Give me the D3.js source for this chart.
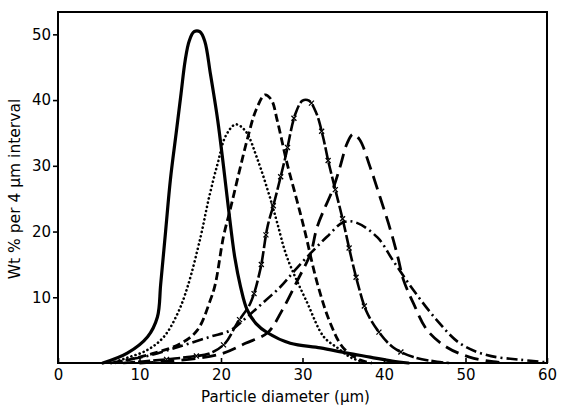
<!DOCTYPE html>
<html>
<head>
<meta charset="utf-8">
<script src="https://cdn.jsdelivr.net/npm/d3@7"></script>
<style>
  body { margin: 0; background: #fff; }
  svg text { font-family: "DejaVu Sans", sans-serif; fill: #000; }
</style>
</head>
<body>
<svg id="chart"></svg>
<script>
// particle size distributions: [diameter um, wt %]
var solidCurve = [[5.5,0],[8.5,1.5],[11,4],[12.2,7],[12.6,12],[13.2,20],[13.8,28],[14.5,35],[15.1,41],
    [15.6,46],[16.1,49],[16.7,50.4],[17.4,50.4],[18,49],[18.7,44],[19.6,36.9],[20.3,30],[20.9,23.7],
    [21.7,16],[22.4,11.6],[23.2,8.1],[24.3,6],[25.7,4.6],[28.5,3.0],[32.2,2.3],[35.5,1.5],[38.3,0.9],[41,0.3],[43,0]];

var dottedCurve = [[6.5,0],[8.5,0.8],[11,2],[13,4],[14.7,7.6],[15.9,11.6],[17.5,19.2],[18.5,25],[19.6,30.4],
    [20.6,34.6],[21.8,36.3],[23,35.3],[24.5,30.9],[26.1,24.8],[26.9,21.3],[28.1,16.1],[30.6,9.1],[32.6,4.0],
    [34.3,2.3],[36,0.8],[38,0]];

var dashedCurve = [[7,0],[11.8,1.5],[15.1,3],[17.1,5],[18.7,9.6],[19.3,12],[20.3,19.2],[21.2,23.7],[22.2,28.9],
    [23.2,33.9],[24.3,38.5],[25.4,40.8],[26.2,40],[26.9,36.9],[28.1,30.4],[29.3,24.8],[30.2,20.5],[31.8,12.2],
    [33.4,6.1],[35,2.3],[37,0.5],[38.5,0]];

var crossCurve = [[8,0],[12,0.4],[15.9,0.9],[18.7,1.5],[20.5,3],[22,6.1],[23.6,9.1],[24.8,14.1],[25.7,20.7],
    [26.5,24.3],[27.9,31.3],[29.1,37.8],[30,39.9],[30.8,39.9],[31.7,38],[32.5,34.5],[33.2,30.5],[34.1,26],
    [35,21.5],[35.9,16.5],[36.8,12],[37.8,8],[39.2,5],[41.1,2.4],[43.6,0.9],[46.5,0.2],[48,0]];

var longDashCurve = [[10,0],[13,0.2],[17,0.7],[20.3,1.5],[23,3],[25.7,4.6],[27.5,8],[29.4,12.6],[31,16.7],
    [31.8,20.7],[33.8,26.7],[34.6,29.8],[35.5,33.5],[36.2,34.8],[37,34],[38.3,29.8],[39.5,25.3],[40.8,20.2],
    [41.7,16.1],[42.4,12.6],[43.6,9.1],[45.3,5],[47.7,2.4],[50.5,0.9],[53.4,0.2],[55,0]];

var dashDotCurve = [[6.5,0],[7.7,0.3],[11.4,1.2],[15.4,2.7],[18.7,4],[21.2,5],[23.2,7],[25,9],[27.3,11.6],
    [29,14],[31,16.7],[33,19.2],[35,21.4],[36.5,21.4],[39.2,19.1],[41.1,15.6],[43.6,11.1],[46.5,6.5],
    [49.3,3],[52.6,1.2],[56.7,0.5],[60,0.1]];

var xTicks = [0,10,20,30,40,50,60];
var yTicks = [10,20,30,40,50];

var screen = {width:561, height:409};
var margins = {top:12, left:58, right:14, bottom:46};
var graph = {
    width:screen.width-margins.left-margins.right,
    height:screen.height-margins.top-margins.bottom
};

var svg = d3.select("#chart")
    .attr("width",screen.width)
    .attr("height",screen.height);

var xScale = d3.scaleLinear()
    .domain([0,60])
    .range([0,graph.width]);

// y top of frame is a bit above 50
var yScale = d3.scaleLinear()
    .domain([0,53.4])
    .range([graph.height,0]);

var g = svg.append("g")
    .attr("transform","translate("+margins.left+","+margins.top+")");

// axes
var xAxis = d3.axisBottom(xScale)
    .tickValues(xTicks)
    .tickSize(-5)
    .tickPadding(6)
    .tickFormat(d3.format("d"));

var yAxis = d3.axisLeft(yScale)
    .tickValues(yTicks)
    .tickSize(5)
    .tickPadding(2)
    .tickFormat(d3.format("d"));

var gx = g.append("g")
    .attr("transform","translate(0,"+graph.height+")")
    .call(xAxis);

var gy = g.append("g")
    .call(yAxis);

[gx,gy].forEach(function(a)
{
    a.select(".domain").remove();
    a.selectAll("line").attr("stroke","#000").attr("stroke-width",1.6);
    a.selectAll("text").style("font-size","15px");
});

// frame
g.append("rect")
    .attr("width",graph.width)
    .attr("height",graph.height)
    .attr("fill","none")
    .attr("stroke","#000")
    .attr("stroke-width",2);

var line = d3.line()
    .x(function(d){return xScale(d[0]);})
    .y(function(d){return yScale(d[1]);})
    .curve(d3.curveCatmullRom.alpha(0.5));

var series = [
    {data:solidCurve, width:3.2, dash:null, cap:"round"},
    {data:dottedCurve, width:2.6, dash:"0.1,4.2", cap:"round"},
    {data:dashedCurve, width:2.8, dash:"8,4", cap:"butt"},
    {data:crossCurve, width:2.6, dash:"12,3", cap:"butt"},
    {data:longDashCurve, width:2.8, dash:"14,7", cap:"butt"},
    {data:dashDotCurve, width:2.6, dash:"11,4,2,4", cap:"butt"}
];

var paths = g.selectAll(".curve")
    .data(series)
    .enter()
    .append("path")
    .classed("curve",true)
    .attr("d",function(s){return line(s.data);})
    .attr("fill","none")
    .attr("stroke","#000")
    .attr("stroke-width",function(s){return s.width;})
    .attr("stroke-linecap",function(s){return s.cap;})
    .attr("stroke-linejoin","round")
    .attr("stroke-dasharray",function(s){return s.dash;});

// small x marks along the dash-cross curve, sitting in the gaps
var crossPath = paths.filter(function(s){return s.data===crossCurve;}).node();
var total = crossPath.getTotalLength();
var marks = d3.range(13.5,total,30).map(function(l){return crossPath.getPointAtLength(l);})
    .filter(function(p){return p.y < graph.height-3;});

g.selectAll(".xmark")
    .data(marks)
    .enter()
    .append("path")
    .attr("d",d3.symbol().type(d3.symbolTimes).size(18))
    .attr("transform",function(p){return "translate("+p.x+","+p.y+")";})
    .attr("fill","none")
    .attr("stroke","#000")
    .attr("stroke-width",1.3);

// axis titles
svg.append("text")
    .attr("x",margins.left+graph.width/2-17)
    .attr("y",402)
    .attr("text-anchor","middle")
    .style("font-size","15px")
    .text("Particle diameter (µm)");

svg.append("text")
    .attr("transform","translate(20,189) rotate(-90)")
    .attr("text-anchor","middle")
    .style("font-size","15.5px")
    .text("Wt % per 4 µm interval");
</script>
</body>
</html>
